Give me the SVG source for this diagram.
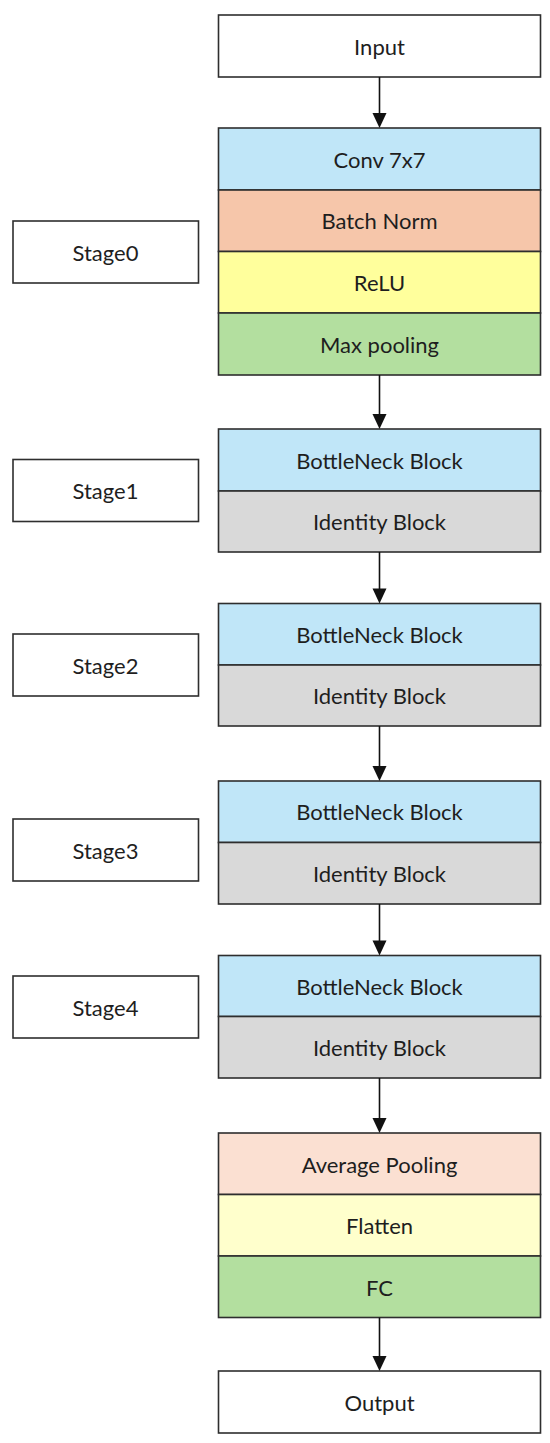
<svg xmlns="http://www.w3.org/2000/svg" width="550" height="1443" viewBox="0 0 550 1443">
<defs>
<style>
.box{stroke:#2e2e2e;stroke-width:1.6}
.w{fill:#ffffff}
.blue{fill:#c0e6f8}
.salmon{fill:#f6c6aa}
.yellow{fill:#ffff9c}
.green{fill:#b3df9f}
.gray{fill:#d9d9d9}
.peach{fill:#fbe0d2}
.cream{fill:#ffffcc}
.t{font-family:Lato,"Open Sans","Liberation Sans",sans-serif;font-size:22px;fill:#1e1e1e;text-anchor:middle;dominant-baseline:central}
.conn line{stroke:#111;stroke-width:1.6}
.conn polygon{fill:#111}
</style>
</defs>
<rect x="0" y="0" width="550" height="1443" fill="#ffffff"/>

<g id="input">
<rect class="box w" x="218.5" y="15" width="322" height="62"/>
<text class="t" x="379.5" y="46">Input</text>
</g>

<g id="stage0-block">
<rect class="box blue" x="218.5" y="128" width="322" height="62"/>
<text class="t" x="379.5" y="159">Conv 7x7</text>
<rect class="box salmon" x="218.5" y="190" width="322" height="61.5"/>
<text class="t" x="379.5" y="220.5">Batch Norm</text>
<rect class="box yellow" x="218.5" y="251.5" width="322" height="61.5"/>
<text class="t" x="379.5" y="282">ReLU</text>
<rect class="box green" x="218.5" y="313" width="322" height="62"/>
<text class="t" x="379.5" y="344">Max pooling</text>
</g>

<g id="stage1-block">
<rect class="box blue" x="218.5" y="429" width="322" height="62"/>
<text class="t" x="379.5" y="460">BottleNeck Block</text>
<rect class="box gray" x="218.5" y="491" width="322" height="61"/>
<text class="t" x="379.5" y="521.5">Identity Block</text>
</g>

<g id="stage2-block">
<rect class="box blue" x="218.5" y="603.5" width="322" height="61.5"/>
<text class="t" x="379.5" y="634">BottleNeck Block</text>
<rect class="box gray" x="218.5" y="665" width="322" height="61"/>
<text class="t" x="379.5" y="695.5">Identity Block</text>
</g>

<g id="stage3-block">
<rect class="box blue" x="218.5" y="781" width="322" height="61.5"/>
<text class="t" x="379.5" y="811.5">BottleNeck Block</text>
<rect class="box gray" x="218.5" y="842.5" width="322" height="61.5"/>
<text class="t" x="379.5" y="873">Identity Block</text>
</g>

<g id="stage4-block">
<rect class="box blue" x="218.5" y="955.5" width="322" height="61"/>
<text class="t" x="379.5" y="986">BottleNeck Block</text>
<rect class="box gray" x="218.5" y="1016.5" width="322" height="61.5"/>
<text class="t" x="379.5" y="1047">Identity Block</text>
</g>

<g id="head-block">
<rect class="box peach" x="218.5" y="1133" width="322" height="61.5"/>
<text class="t" x="379.5" y="1164">Average Pooling</text>
<rect class="box cream" x="218.5" y="1194.5" width="322" height="61.5"/>
<text class="t" x="379.5" y="1225">Flatten</text>
<rect class="box green" x="218.5" y="1256" width="322" height="61.5"/>
<text class="t" x="379.5" y="1287">FC</text>
</g>

<g id="output">
<rect class="box w" x="218.5" y="1371" width="322" height="62"/>
<text class="t" x="379.5" y="1402">Output</text>
</g>

<g id="stage0-label">
<rect class="box w" x="13" y="221" width="185.5" height="62"/>
<text class="t" x="105.5" y="252">Stage0</text>
</g>
<g id="stage1-label">
<rect class="box w" x="13" y="459.5" width="185.5" height="62"/>
<text class="t" x="105.5" y="490.5">Stage1</text>
</g>
<g id="stage2-label">
<rect class="box w" x="13" y="634" width="185.5" height="62"/>
<text class="t" x="105.5" y="665">Stage2</text>
</g>
<g id="stage3-label">
<rect class="box w" x="13" y="819" width="185.5" height="62"/>
<text class="t" x="105.5" y="850">Stage3</text>
</g>
<g id="stage4-label">
<rect class="box w" x="13" y="976" width="185.5" height="62"/>
<text class="t" x="105.5" y="1007">Stage4</text>
</g>

<g id="connectors" class="conn">
<line x1="379.5" y1="77" x2="379.5" y2="114"/>
<polygon points="372.5,113 386.5,113 379.5,128"/>
<line x1="379.5" y1="375" x2="379.5" y2="415"/>
<polygon points="372.5,414 386.5,414 379.5,429"/>
<line x1="379.5" y1="552" x2="379.5" y2="589"/>
<polygon points="372.5,588.5 386.5,588.5 379.5,603.5"/>
<line x1="379.5" y1="726" x2="379.5" y2="767"/>
<polygon points="372.5,766 386.5,766 379.5,781"/>
<line x1="379.5" y1="904" x2="379.5" y2="941"/>
<polygon points="372.5,940.5 386.5,940.5 379.5,955.5"/>
<line x1="379.5" y1="1078" x2="379.5" y2="1119"/>
<polygon points="372.5,1118 386.5,1118 379.5,1133"/>
<line x1="379.5" y1="1317.5" x2="379.5" y2="1357"/>
<polygon points="372.5,1356 386.5,1356 379.5,1371"/>
</g>
</svg>
